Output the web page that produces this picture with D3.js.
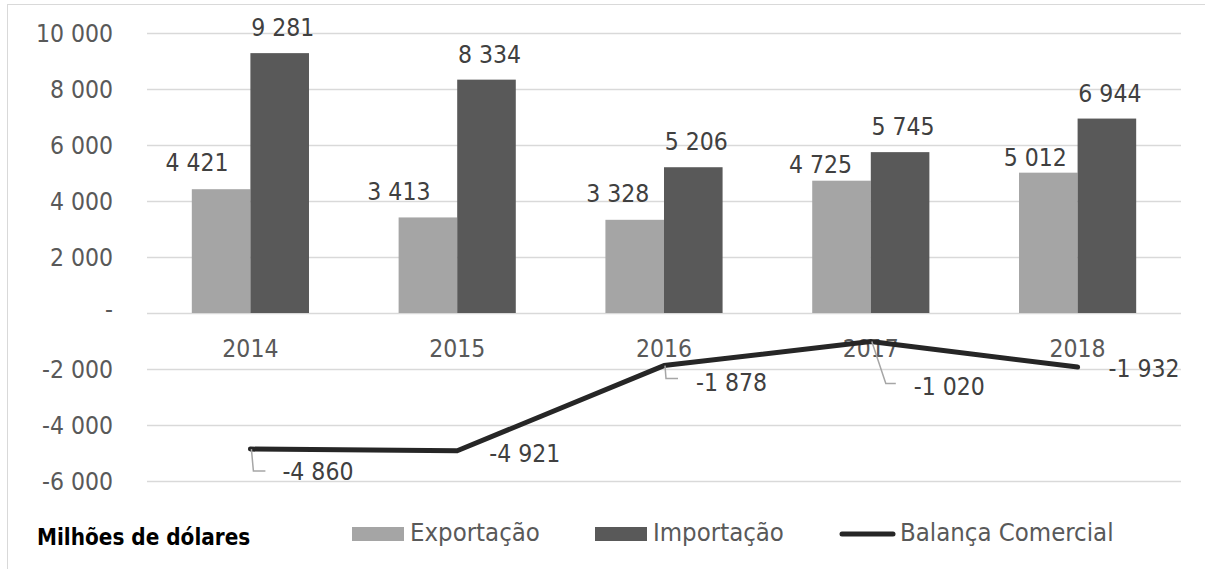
<!DOCTYPE html>
<html>
<head>
<meta charset="utf-8">
<script src="https://cdn.jsdelivr.net/npm/d3@7"></script>
<style>
  body { margin: 0; background: #fff; }
  text { font-family: "DejaVu Sans Condensed", "DejaVu Sans", sans-serif; }
</style>
</head>
<body>
<div id="chart"></div>
<script>
    // data
    const years = ["2014", "2015", "2016", "2017", "2018"];
    const exportacao = [4421, 3413, 3328, 4725, 5012];
    const importacao = [9281, 8334, 5206, 5745, 6944];
    const balanca = [-4860, -4921, -1878, -1020, -1932];
    const yTicks = [-6000, -4000, -2000, 0, 2000, 4000, 6000, 8000, 10000];
    const seriesNames = ["Exportação", "Importação", "Balança Comercial"];

    const width = 1205,
        height = 569;

    const colors = { exp: "#a5a5a5", imp: "#595959", line: "#262626" };

    const svg = d3.select("#chart")
        .append("svg")
        .attr("width", width)
        .attr("height", height);

    // outer chart frame
    svg.append("rect")
        .attr("x", 7.5).attr("y", 4.5)
        .attr("width", width).attr("height", height)
        .attr("fill", "none")
        .attr("stroke", "#d9d9d9");

    const x0 = d3.scaleBand()
        .domain(years)
        .range([147, 1181]);

    const x1 = d3.scaleBand()
        .domain(["exp", "imp"])
        .range([0, x0.bandwidth()])
        .paddingOuter(0.765);

    const y = d3.scaleLinear()
        .domain([-6000, 10000])
        .range([481, 33]);

    const loc = d3.formatLocale({ decimal: ",", thousands: " ", grouping: [3], currency: ["", ""], minus: "-" });
    const fmt = loc.format(",d");
    const tickFmt = d => d === 0 ? "-" : fmt(d);

    // gridlines
    svg.append("g")
        .selectAll("line")
        .data(yTicks)
        .join("line")
        .attr("x1", 147).attr("x2", 1181)
        .attr("y1", d => Math.round(y(d)) + 0.5)
        .attr("y2", d => Math.round(y(d)) + 0.5)
        .attr("stroke", "#d9d9d9")
        .attr("stroke-width", 1.5);

    // y axis labels
    svg.append("g")
        .selectAll("text")
        .data(yTicks)
        .join("text")
        .attr("x", 113)
        .attr("y", d => y(d))
        .attr("dy", d => d === 0 ? "0.2em" : "0.36em")
        .attr("text-anchor", "end")
        .attr("font-size", "24.5px")
        .attr("fill", "#595959")
        .text(tickFmt);

    // bars
    const groups = svg.append("g")
        .selectAll("g")
        .data(years)
        .join("g")
        .attr("transform", d => `translate(${x0(d)},0)`);

    groups.append("rect")
        .attr("x", x1("exp"))
        .attr("width", x1.bandwidth())
        .attr("y", (d, i) => y(exportacao[i]))
        .attr("height", (d, i) => y(0) - y(exportacao[i]))
        .attr("fill", colors.exp);

    groups.append("rect")
        .attr("x", x1("imp"))
        .attr("width", x1.bandwidth())
        .attr("y", (d, i) => y(importacao[i]))
        .attr("height", (d, i) => y(0) - y(importacao[i]))
        .attr("fill", colors.imp);

    // bar labels; export labels were nudged left in the original
    const expLabelOffsets = [[-24, 18], [-29, 17], [-17, 18], [-21, 8], [-13, 7]];

    groups.append("text")
        .attr("x", (d, i) => x1("exp") + x1.bandwidth() / 2 + expLabelOffsets[i][0])
        .attr("y", (d, i) => y(exportacao[i]) - expLabelOffsets[i][1])
        .attr("text-anchor", "middle")
        .attr("font-size", "24.5px")
        .attr("fill", "#404040")
        .text((d, i) => fmt(exportacao[i]));

    groups.append("text")
        .attr("x", x1("imp") + x1.bandwidth() / 2 + 3)
        .attr("y", (d, i) => y(importacao[i]) - 17)
        .attr("text-anchor", "middle")
        .attr("font-size", "24.5px")
        .attr("fill", "#404040")
        .text((d, i) => fmt(importacao[i]));

    // category labels
    groups.append("text")
        .attr("x", x0.bandwidth() / 2)
        .attr("y", 357)
        .attr("text-anchor", "middle")
        .attr("font-size", "24.5px")
        .attr("fill", "#595959")
        .text(d => d);

    // balance line
    const cx = d => x0(d) + x0.bandwidth() / 2;
    const line = d3.line()
        .x((d, i) => cx(years[i]))
        .y(d => y(d));

    svg.append("path")
        .datum(balanca)
        .attr("d", line)
        .attr("fill", "none")
        .attr("stroke", colors.line)
        .attr("stroke-width", 5)
        .attr("stroke-linejoin", "round")
        .attr("stroke-linecap", "round");

    // line labels, offsets from the point: [label dx, label dy, leader path or null]
    const lineLabelOffsets = [
        [32, 31, [[1, 0], [3, 22], [15, 22]]],
        [32, 11, null],
        [32, 25, [[1, 0], [2, 13], [14, 13]]],
        [43, 53, [[1, 0], [15, 42], [25, 42]]],
        [31, 10, null]
    ];

    balanca.forEach((v, i) => {
        const px = cx(years[i]), py = y(v);
        const o = lineLabelOffsets[i];
        if (o[2]) {
            svg.append("path")
                .attr("d", d3.line()(o[2].map(p => [px + p[0], py + p[1]])))
                .attr("fill", "none")
                .attr("stroke", "#a6a6a6")
                .attr("stroke-width", 1.5);
        }
        svg.append("text")
            .attr("x", px + o[0])
            .attr("y", py + o[1])
            .attr("font-size", "24.5px")
            .attr("fill", "#404040")
            .text(fmt(v));
    });

    // legend
    svg.append("text")
        .attr("x", 37)
        .attr("y", 545)
        .attr("font-size", "22.3px")
        .attr("font-weight", "bold")
        .attr("fill", "#000")
        .text("Milhões de dólares");

    const legendX = [352, 595, 840];
    const legendY = 534;
    svg.append("rect")
        .attr("x", legendX[0]).attr("y", legendY - 7)
        .attr("width", 52).attr("height", 14)
        .attr("fill", colors.exp);
    svg.append("rect")
        .attr("x", legendX[1]).attr("y", legendY - 7)
        .attr("width", 52).attr("height", 14)
        .attr("fill", colors.imp);
    svg.append("line")
        .attr("x1", legendX[2] + 2).attr("x2", legendX[2] + 53)
        .attr("y1", legendY).attr("y2", legendY)
        .attr("stroke", colors.line)
        .attr("stroke-width", 5)
        .attr("stroke-linecap", "round");

    svg.append("g")
        .selectAll("text")
        .data(seriesNames)
        .join("text")
        .attr("x", (d, i) => legendX[i] + (i === 2 ? 60 : 58))
        .attr("y", 541)
        .attr("font-size", "25.5px")
        .attr("fill", "#595959")
        .text(d => d);
</script>
</body>
</html>
